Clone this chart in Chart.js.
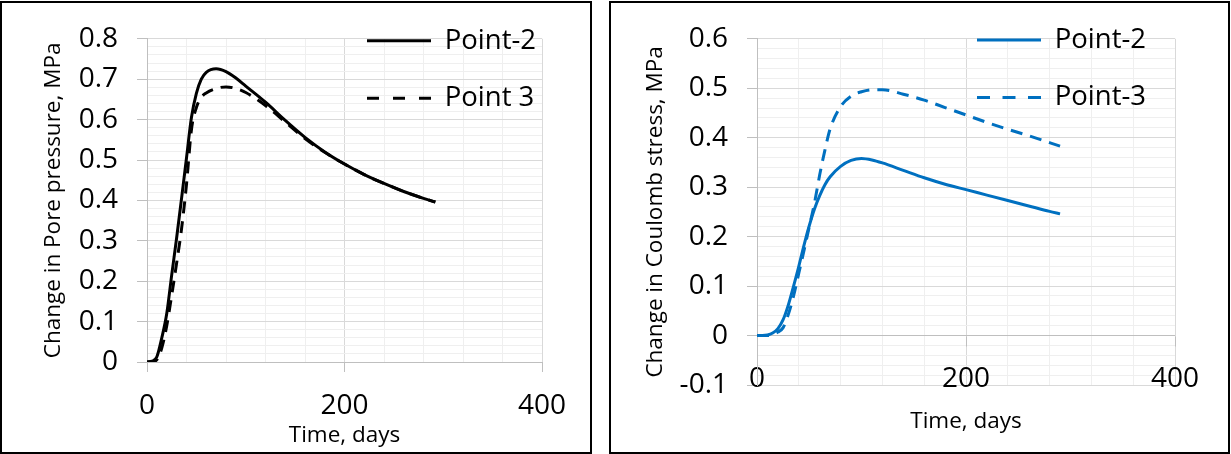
<!DOCTYPE html>
<html><head><meta charset="utf-8">
<script src="https://cdn.jsdelivr.net/npm/chart.js@4.4.0/dist/chart.umd.min.js"></script>
<style>
html,body{margin:0;padding:0;background:#fff;}
body{width:1231px;height:454px;position:relative;overflow:hidden;}
.panel{position:absolute;box-sizing:border-box;border:2px solid #000;background:#fff;}
canvas{position:absolute;}
</style></head><body>
<div class="panel" style="left:0px;top:1px;width:592px;height:453px"></div>
<div class="panel" style="left:609px;top:1px;width:621px;height:453px"></div>
<canvas id="c1" width="588" height="449" style="left:2px;top:3px;width:588px;height:449px"></canvas>
<canvas id="c2" width="617" height="449" style="left:611px;top:3px;width:617px;height:449px"></canvas>
<script>
// ---- data ----
const xMajorTicks = [0, 200, 400];
const leftYMajorTicks = [0, 0.1, 0.2, 0.3, 0.4, 0.5, 0.6, 0.7, 0.8];
const rightYMajorTicks = [-0.1, 0, 0.1, 0.2, 0.3, 0.4, 0.5, 0.6];
const xMinorStep = 40;
const yMinorStep = 0.02;

const poreLabels = ['Point-2', 'Point 3'];
const poreTime   = [0, 5, 10, 15, 20, 25, 30, 35, 40, 45, 50, 55, 60, 70, 80, 90, 100, 120, 140, 160, 180, 200, 220, 240, 260, 280, 292];
const porePoint2 = [0, 0.002, 0.013, 0.06, 0.12, 0.215, 0.307, 0.405, 0.505, 0.605, 0.665, 0.70, 0.717, 0.726, 0.719, 0.703, 0.683, 0.643, 0.598, 0.556, 0.52, 0.49, 0.464, 0.442, 0.422, 0.405, 0.396];
const porePoint3 = [0, 0, 0.006, 0.035, 0.09, 0.165, 0.245, 0.33, 0.44, 0.575, 0.63, 0.655, 0.666, 0.677, 0.681, 0.677, 0.667, 0.635, 0.594, 0.553, 0.519, 0.49, 0.464, 0.442, 0.422, 0.405, 0.396];

const coulombLabels = ['Point-2', 'Point-3'];
const coulombTime   = [0, 5, 10, 15, 20, 25, 30, 35, 40, 45, 50, 55, 60, 65, 70, 80, 90, 100, 110, 120, 140, 160, 180, 200, 220, 240, 260, 280, 290];
const coulombPoint2 = [0, 0, 0.001, 0.005, 0.014, 0.032, 0.062, 0.10, 0.14, 0.183, 0.222, 0.256, 0.283, 0.305, 0.321, 0.342, 0.354, 0.358, 0.355, 0.349, 0.334, 0.319, 0.306, 0.295, 0.284, 0.273, 0.262, 0.251, 0.246];
const coulombPoint3 = [0, 0, 0, 0.002, 0.007, 0.016, 0.043, 0.08, 0.126, 0.172, 0.22, 0.268, 0.325, 0.375, 0.418, 0.463, 0.484, 0.493, 0.497, 0.497, 0.488, 0.476, 0.461, 0.446, 0.431, 0.417, 0.404, 0.39, 0.383];

// ---- helpers ----
const FONT = "'Open Sans', sans-serif";
const MAJOR = '#d9d9d9', MINOR = '#efefef', AXIS = '#bfbfbf', NONE = 'rgba(0,0,0,0)';
Chart.defaults.font.family = FONT;
Chart.defaults.color = '#000';

function steps(min, max, step) {
  const n = Math.round((max - min) / step), out = [];
  for (let i = 0; i <= n; i++) out.push(+(min + i * step).toFixed(6));
  return out;
}
function isMajor(list, v) { return list.some(t => Math.abs(t - v) < 1e-6); }
function fmtY(v) { const r = Math.round(v * 10) / 10; return r === 0 ? '0' : r.toFixed(1); }
function pts(xs, ys) { return xs.map((x, i) => ({x: x, y: ys[i]})); }

const legendPlace = {
  id: 'legendPlace',
  afterLayout(chart, args, opts) {
    const lg = chart.legend; if (!lg) return;
    lg.left = opts.left; lg.top = opts.top;
    lg.right = opts.left + 300; lg.bottom = opts.top + 300;
  }
};
const zeroAxisTicks = {
  id: 'zeroAxisTicks',
  beforeDatasetsDraw(chart, args, opts) {
    if (!opts.enabled) return;
    const xs = chart.scales.x, ys = chart.scales.y, ctx = chart.ctx;
    const y0 = Math.round(ys.getPixelForValue(0)) + 0.5;
    ctx.save(); ctx.strokeStyle = AXIS; ctx.lineWidth = 1;
    xMajorTicks.forEach(v => {
      const px = Math.round(xs.getPixelForValue(v)) + 0.5;
      ctx.beginPath(); ctx.moveTo(px, y0); ctx.lineTo(px, y0 + 10); ctx.stroke();
    });
    ctx.restore();
  }
};

function buildChart(id, cfg) {
  const yMinors = steps(cfg.yMajors[0], cfg.yMajors[cfg.yMajors.length - 1], yMinorStep);
  const xMinors = steps(xMajorTicks[0], xMajorTicks[xMajorTicks.length - 1], xMinorStep);
  const legendDash = cfg.legendDash;
  return new Chart(document.getElementById(id), {
    type: 'line',
    data: {
      datasets: [
        {label: cfg.labels[0], data: pts(cfg.time, cfg.s1), borderColor: cfg.color, backgroundColor: cfg.color,
         borderWidth: 3, pointRadius: 0, cubicInterpolationMode: 'monotone', fill: false},
        {label: cfg.labels[1], data: pts(cfg.time, cfg.s2), borderColor: cfg.color, backgroundColor: cfg.color,
         borderWidth: 3, borderDash: [12, 8], pointRadius: 0, cubicInterpolationMode: 'monotone', fill: false}
      ]
    },
    options: {
      responsive: false, animation: false, devicePixelRatio: 1,
      layout: {padding: {left: 0, top: cfg.padTop, right: cfg.padRight, bottom: 0}},
      plugins: {
        tooltip: {enabled: false},
        legend: {
          position: 'chartArea', align: 'start',
          labels: {
            usePointStyle: true, pointStyle: 'line', pointStyleWidth: 64, padding: 30, textAlign: 'left',
            color: '#000', font: {family: FONT, size: 27.5},
            generateLabels(chart) {
              const items = Chart.defaults.plugins.legend.labels.generateLabels(chart);
              items.forEach(it => {
                const ds = chart.data.datasets[it.datasetIndex];
                it.lineDash = (ds.borderDash && ds.borderDash.length) ? legendDash : [];
                it.lineWidth = ds.borderWidth;
                it.strokeStyle = ds.borderColor;
                it.textAlign = 'left';
              });
              return items;
            }
          }
        },
        legendPlace: {left: cfg.legendLeft, top: cfg.legendTop},
        zeroAxisTicks: {enabled: cfg.zeroTicks}
      },
      scales: {
        x: {
          type: 'linear', min: xMajorTicks[0], max: xMajorTicks[xMajorTicks.length - 1],
          afterBuildTicks: s => { s.ticks = xMinors.map(v => ({value: v})); },
          afterFit: s => { s.height = cfg.xHeight; },
          ticks: {autoSkip: false, maxRotation: 0, minRotation: 0, mirror: cfg.xMirror, padding: cfg.xTickPad, color: '#000',
                  font: {family: FONT, size: 28},
                  callback: v => isMajor(xMajorTicks, v) ? String(Math.round(v)) : ''},
          grid: {
            drawTicks: cfg.xDrawTicks, tickLength: 10, lineWidth: 1,
            color: c => { const v = c.tick ? c.tick.value : 1; return v === 0 ? AXIS : (isMajor(xMajorTicks, v) ? MAJOR : MINOR); },
            tickColor: c => (c.tick && isMajor(xMajorTicks, c.tick.value)) ? AXIS : NONE
          },
          border: {display: true, color: cfg.xBorder, width: 1},
          title: {display: true, text: 'Time, days', color: '#000', font: {family: FONT, size: 22.5},
                  padding: {top: 0, bottom: cfg.xTitlePad}}
        },
        y: {
          type: 'linear', min: cfg.yMajors[0], max: cfg.yMajors[cfg.yMajors.length - 1],
          afterBuildTicks: s => { s.ticks = yMinors.map(v => ({value: v})); },
          afterFit: s => { s.width = cfg.yWidth; },
          ticks: {autoSkip: false, padding: 19, color: '#000', font: {family: FONT, size: 28},
                  callback: v => isMajor(cfg.yMajors, v) ? fmtY(v) : ''},
          grid: {
            drawTicks: true, tickLength: 10, lineWidth: 1,
            color: c => { const v = c.tick ? c.tick.value : 1; return Math.abs(v) < 1e-9 ? AXIS : (isMajor(cfg.yMajors, v) ? MAJOR : MINOR); },
            tickColor: c => (c.tick && isMajor(cfg.yMajors, c.tick.value)) ? AXIS : NONE
          },
          border: {display: true, color: AXIS, width: 1},
          title: {display: true, text: cfg.yTitle, color: '#000', font: {family: FONT, size: 22.5},
                  padding: {top: cfg.yTitlePad, bottom: 0}}
        }
      }
    },
    plugins: [legendPlace, zeroAxisTicks]
  });
}

buildChart('c1', {
  labels: poreLabels, time: poreTime, s1: porePoint2, s2: porePoint3, color: '#000000',
  yMajors: leftYMajorTicks, yTitle: 'Change in Pore pressure, MPa',
  padTop: 24, padRight: 48, yWidth: 145, xHeight: 90,
  xTickPad: 16.8, xMirror: false, xDrawTicks: true, xBorder: AXIS, xTitlePad: 3.2, yTitlePad: 38.5,
  legendLeft: 335, legendTop: -6, legendDash: [12, 14], zeroTicks: false
});
buildChart('c2', {
  labels: coulombLabels, time: coulombTime, s1: coulombPoint2, s2: coulombPoint3, color: '#0070C0',
  yMajors: rightYMajorTicks, yTitle: 'Change in Coulomb stress, MPa',
  padTop: 28, padRight: 53, yWidth: 146, xHeight: 67,
  xTickPad: -10.8, xMirror: true, xDrawTicks: false, xBorder: MAJOR, xTitlePad: 16.9, yTitlePad: 31,
  legendLeft: 336, legendTop: -6.75, legendDash: [13, 12.5], zeroTicks: true
});
</script>
</body></html>
